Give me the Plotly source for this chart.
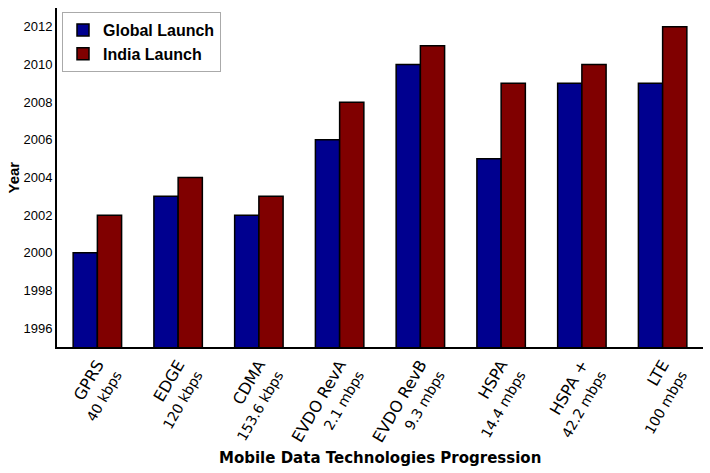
import plotly.graph_objects as go

# launch years per technology
techs = ["GPRS", "EDGE", "CDMA", "EVDO RevA", "EVDO RevB", "HSPA", "HSPA +", "LTE"]
speeds = ["40 kbps", "120 kbps", "153.6 kbps", "2.1 mbps", "9.3 mbps", "14.4 mbps", "42.2 mbps", "100 mbps"]
global_launch = [2000, 2003, 2002, 2006, 2010, 2005, 2009, 2009]
india_launch = [2002, 2004, 2003, 2008, 2011, 2009, 2010, 2012]
year_ticks = [1996, 1998, 2000, 2002, 2004, 2006, 2008, 2010, 2012]

labels = [f"{t}<br><span style='font-size:14px'>{s}</span>" for t, s in zip(techs, speeds)]

fig = go.Figure()
fig.add_trace(go.Bar(x=labels, y=global_launch, name="Global Launch",
                     marker=dict(color="#00008f", line=dict(color="black", width=1.5))))
fig.add_trace(go.Bar(x=labels, y=india_launch, name="India Launch",
                     marker=dict(color="#800000", line=dict(color="black", width=1.5))))

W, H = 710, 473
L, R, T, B = 57, 7, 8, 126
plot_w = W - L - R
plot_h = H - T - B

fig.update_layout(
    width=W, height=H,
    margin=dict(l=L, r=R, t=T, b=B),
    plot_bgcolor="white", paper_bgcolor="white",
    barmode="group", bargap=0.4, bargroupgap=0,
    font=dict(family="Liberation Sans, Arial", color="black"),
    legend=dict(x=(62 - L) / plot_w, y=1 - (12 - T) / plot_h, xanchor="left", yanchor="top",
                bgcolor="white", bordercolor="#aaaaaa", borderwidth=1,
                font=dict(size=16, family="Liberation Sans, Arial", weight="bold"),
                tracegroupgap=0, itemwidth=30),
    showlegend=True,
    annotations=[
        dict(text="<b>Mobile Data Technologies Progression</b>",
             x=0.5, y=(H - B - 458) / plot_h, xanchor="center", yanchor="middle",
             xref="paper", yref="paper", showarrow=False,
             font=dict(size=15, family="DejaVu Sans")),
        dict(text="<b>Year</b>", x=(13 - L) / plot_w, y=0.5,
             xanchor="center", yanchor="middle", xref="paper", yref="paper",
             showarrow=False, textangle=-90, font=dict(size=15)),
    ],
)

fig.update_xaxes(
    tickangle=-60, showline=True, linecolor="black", linewidth=2,
    ticks="", automargin=False, tickfont=dict(size=16, family="DejaVu Sans"),
)
fig.update_yaxes(
    range=[1995, 2013], tickvals=year_ticks, showgrid=False, zeroline=False,
    showline=True, linecolor="black", linewidth=2, ticks="", automargin=False,
    tickfont=dict(size=13), tickformat="d",
)

fig.write_html("out.html", config={"displayModeBar": False},
               post_script="document.body.style.margin='0';")
